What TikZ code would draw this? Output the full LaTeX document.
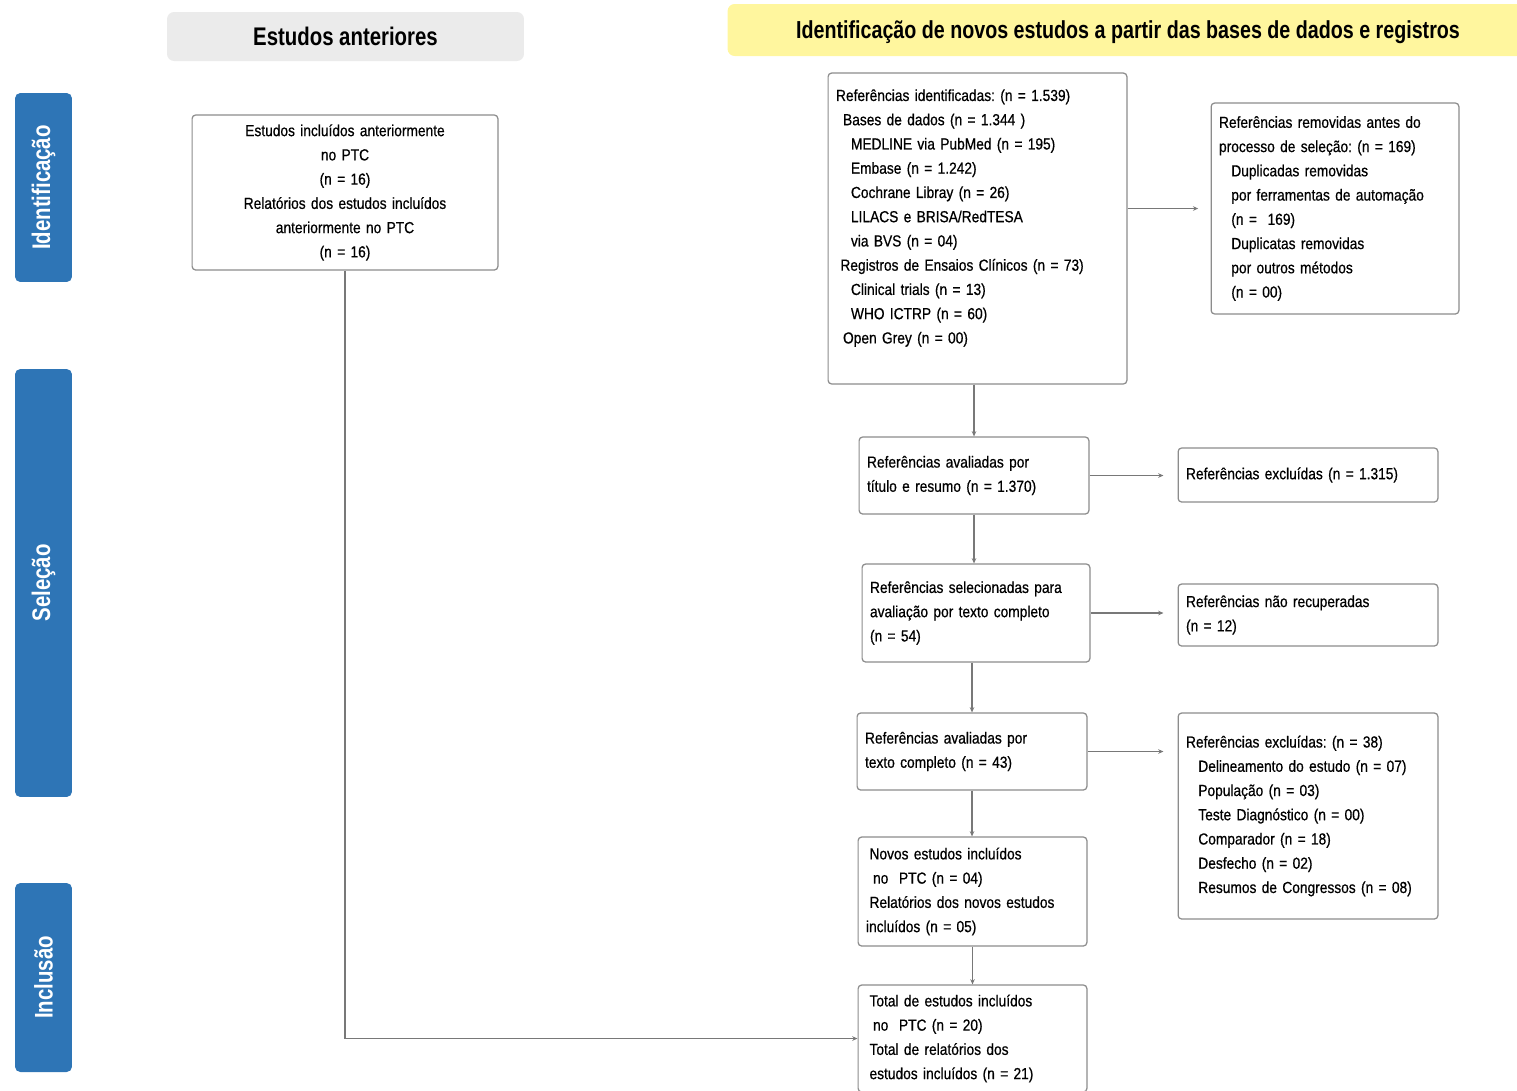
\documentclass[tikz,border=0pt]{standalone}
\usepackage{fontspec}
\setmainfont{Liberation Sans}[FakeStretch=0.86, FakeBold=0.6]
\newfontfamily\headfont{Liberation Sans}[FakeStretch=0.8]
\usepackage{tikz}
\usetikzlibrary{arrows.meta, positioning, calc}
\frenchspacing
\definecolor{phaseblue}{RGB}{46,117,182}
\definecolor{headyellow}{RGB}{255,246,158}
\definecolor{headgray}{RGB}{235,235,235}
\definecolor{boxgray}{RGB}{140,140,140}
\definecolor{linegray}{RGB}{120,120,120}
\tikzset{
  box_font/.style = {font=\fontsize{9.1}{13.8}\selectfont},
  head_font/.style = {font=\headfont\bfseries\fontsize{14.5}{16}\selectfont},
  wide_head_font/.style = {font=\headfont\bfseries\fontsize{14}{16}\selectfont}
}
\tikzset{
  flow_box/.style = {box_font, align=left, draw=boxgray, line width=0.7pt, rounded corners=2pt, fill=white, inner xsep=4.5pt, inner ysep=2pt},
  centered_box/.style = {flow_box, align=center},
  phase/.style = {head_font, text=white, fill=phaseblue, rounded corners=3pt, rotate=90, minimum height=1.14cm, inner sep=0},
  banner/.style = {head_font, rounded corners=4pt, inner sep=0, align=center}
}
\tikzset{
  link/.style = {draw=linegray, line width=0.8pt, -{Stealth[length=3pt,width=2.6pt]}},
  gap_a/.style = {shorten >=7pt},
  gap_b/.style = {shorten >=8pt}
}
\begin{document}
\begin{tikzpicture}[x=0.02cm, y=-0.02cm]
    \useasboundingbox (0,0) rectangle (1517,1090);

    % Phases
    \node[phase, minimum width=3.78cm] (ph_ident) at (43.5,187.5) {Identificação};
    \node[phase, minimum width=8.56cm] (ph_sel) at (43.5,583) {Seleção};
    \node[phase, minimum width=3.78cm] (ph_incl) at (43.5,977.5) {Inclusão};

    % Banners
    \node[banner, fill=headgray, minimum width=7.14cm, minimum height=0.98cm] (old_head) at (345.5,36.5) {Estudos anteriores};
    \node[banner, fill=headyellow, minimum width=15.94cm, minimum height=1.04cm] (new_head) at (1126,30) {};
    \node[wide_head_font, inner sep=0] (new_head_text) at (1128,32) {Identificação de novos estudos a partir das bases de dados e registros};

    % Previous studies
    \node[centered_box, text width=5.8cm, minimum height=3.1cm] (old_incl) at (345,192.5) {
        Estudos incluídos anteriormente\\
        no PTC\\
        (n = 16)\\
        Relatórios dos estudos incluídos\\
        anteriormente no PTC\\
        (n = 16)};

    % Identification
    \node[flow_box, text width=5.66cm, minimum height=6.22cm] (ident) at (977.5,228.5) {
        Referências identificadas: (n = 1.539)\\
        \hspace*{4pt}Bases de dados (n = 1.344 )\\
        \hspace*{8.5pt}MEDLINE via PubMed (n = 195)\\
        \hspace*{8.5pt}Embase (n = 1.242)\\
        \hspace*{8.5pt}Cochrane Libray (n = 26)\\
        \hspace*{8.5pt}LILACS e BRISA/RedTESA\\
        \hspace*{8.5pt}via BVS (n = 04)\\
        \hspace*{2.5pt}Registros de Ensaios Clínicos (n = 73)\\
        \hspace*{8.5pt}Clinical trials (n = 13)\\
        \hspace*{8.5pt}WHO ICTRP (n = 60)\\
        \hspace*{4pt}Open Grey (n = 00)\\
        \mbox{}};
    \node[flow_box, text width=4.64cm, minimum height=4.22cm] (removed) at (1335,208.5) {
        Referências removidas antes do\\
        processo de seleção: (n = 169)\\
        \hspace*{7pt}Duplicadas removidas\\
        \hspace*{7pt}por ferramentas de automação\\
        \hspace*{7pt}(n =\ \ 169)\\
        \hspace*{7pt}Duplicatas removidas\\
        \hspace*{7pt}por outros métodos\\
        \hspace*{7pt}(n = 00)};

    % Selection
    \node[flow_box, text width=4.28cm, minimum height=1.54cm] (screen) at (974,475.5) {
        Referências avaliadas por\\
        título e resumo (n = 1.370)};
    \node[flow_box, text width=4.88cm, minimum height=1.08cm] (excl_screen) at (1308,475) {
        Referências excluídas (n = 1.315)};
    \node[flow_box, text width=4.24cm, minimum height=1.96cm] (sought) at (976,613) {
        Referências selecionadas para\\
        avaliação por texto completo\\
        (n = 54)};
    \node[flow_box, text width=4.88cm, minimum height=1.24cm] (not_found) at (1308,615) {
        Referências não recuperadas\\
        (n = 12)};
    \node[flow_box, text width=4.28cm, minimum height=1.54cm] (full_text) at (972,751.5) {
        Referências avaliadas por\\
        texto completo (n = 43)};
    \node[flow_box, text width=4.88cm, minimum height=4.12cm] (excl_full) at (1308,816) {
        Referências excluídas: (n = 38)\\
        \hspace*{7pt}Delineamento do estudo (n = 07)\\
        \hspace*{7pt}População (n = 03)\\
        \hspace*{7pt}Teste Diagnóstico (n = 00)\\
        \hspace*{7pt}Comparador (n = 18)\\
        \hspace*{7pt}Desfecho (n = 02)\\
        \hspace*{7pt}Resumos de Congressos (n = 08)};

    % Inclusion
    \node[flow_box, text width=4.26cm, minimum height=2.18cm] (new_incl) at (972.5,891.5) {
        \hspace*{2pt}Novos estudos incluídos\\
        \hspace*{4pt}no\ \ PTC (n = 04)\\
        \hspace*{2pt}Relatórios dos novos estudos\\
        incluídos (n = 05)};
    \node[flow_box, text width=4.26cm, minimum height=2.14cm] (total) at (972.5,1038.5) {
        \hspace*{2pt}Total de estudos incluídos\\
        \hspace*{4pt}no\ \ PTC (n = 20)\\
        \hspace*{2pt}Total de relatórios dos\\
        \hspace*{2pt}estudos incluídos (n = 21)};

    % Arrows and lines
    \draw[link] (screen.north |- ident.south) -- (screen.north);
    \draw[link] (screen.south) -- (screen.south |- sought.north);
    \draw[link] (full_text.north |- sought.south) -- (full_text.north);
    \draw[link] (full_text.south) -- (full_text.south |- new_incl.north);
    \draw[link] (new_incl.south) -- (total.north);

    \draw[link, gap_a] (ident.east |- removed.west) -- (removed.west);
    \draw[link, gap_b] (screen.east) -- (screen.east -| excl_screen.west);
    \draw[link, gap_b] (sought.east) -- (sought.east -| not_found.west);
    \draw[link, gap_b] (full_text.east) -- (full_text.east -| excl_full.west);

    \draw[link] (old_incl.south) |- (total.west);
\end{tikzpicture}
\end{document}
